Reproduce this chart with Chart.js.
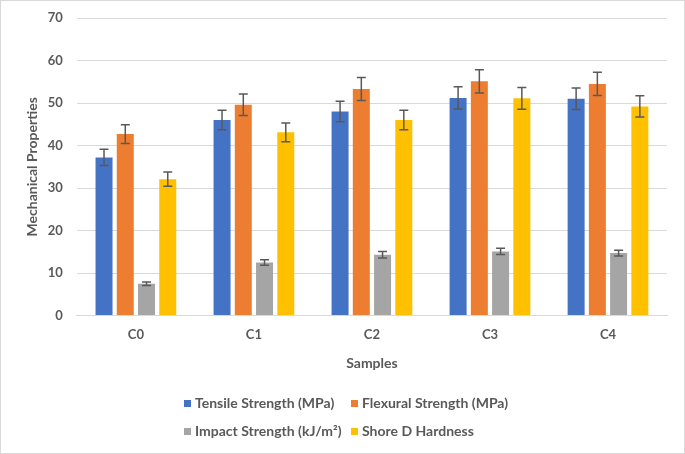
<!DOCTYPE html>
<html>
<head>
<meta charset="utf-8">
<script src="https://cdn.jsdelivr.net/npm/chart.js@4"></script>
<style>
  html, body { margin: 0; padding: 0; background: #fff; }
  #box { position: relative; width: 683px; height: 452px; border: 1px solid #d9d9d9; }
  #legend { position: absolute; left: 183px; top: 393px; display: grid;
    grid-template-columns: 167px 167px; row-gap: 11px;
    font: bold 14px Lato, sans-serif; color: #595959; }
  #legend span.sw { display: inline-block; width: 7px; height: 7px; margin-right: 4px; vertical-align: 1px; }
</style>
</head>
<body>
<div id="box">
  <canvas id="statisticsChart1"></canvas>
  <div id="legend"></div>
</div>
<script>
var ctx = document.getElementById("statisticsChart1").getContext('2d');

// samples on x axis
var samples = ["C0", "C1", "C2", "C3", "C4"];

var seriesNames = ["Tensile Strength (MPa)", "Flexural Strength (MPa)", "Impact Strength (kJ/m²)", "Shore D Hardness"];
var seriesColors = ["#4472C4", "#ED7D31", "#A5A5A5", "#FFC000"];

var tensile = [37.2, 46.0, 48.0, 51.2, 51.0];
var flexural = [42.7, 49.6, 53.3, 55.1, 54.5];
var impact = [7.5, 12.5, 14.3, 15.1, 14.7];
var shore = [32.1, 43.1, 46.0, 51.1, 49.2];

// +/- error values
var tensileErr = [1.9, 2.3, 2.4, 2.6, 2.55];
var flexuralErr = [2.2, 2.55, 2.7, 2.75, 2.75];
var impactErr = [0.4, 0.65, 0.75, 0.75, 0.7];
var shoreErr = [1.65, 2.2, 2.3, 2.55, 2.5];

var yTicks = [0, 10, 20, 30, 40, 50, 60, 70];

var allValues = [tensile, flexural, impact, shore];
var allErrors = [tensileErr, flexuralErr, impactErr, shoreErr];

var datasets = [];
for (var i = 0; i < seriesNames.length; i++) {
  datasets.push({
    label: seriesNames[i],
    data: allValues[i],
    errors: allErrors[i],
    backgroundColor: seriesColors[i],
    borderWidth: 0,
    categoryPercentage: 0.72,
    barPercentage: 0.8
  });
}

// error bars drawn with the chart's own scales
var errorBars = {
  id: 'errorBars',
  afterDatasetsDraw: function(chart) {
    var c = chart.ctx;
    var yScale = chart.scales.y;
    c.save();
    c.strokeStyle = "#595959";
    c.lineWidth = 1.5;
    chart.data.datasets.forEach(function(ds, di) {
      var meta = chart.getDatasetMeta(di);
      meta.data.forEach(function(bar, j) {
        var v = ds.data[j], e = ds.errors[j];
        var yTop = yScale.getPixelForValue(v + e);
        var yBot = yScale.getPixelForValue(v - e);
        var x = bar.x;
        c.beginPath();
        c.moveTo(x, yTop); c.lineTo(x, yBot);
        c.moveTo(x - 4.5, yTop); c.lineTo(x + 4.5, yTop);
        c.moveTo(x - 4.5, yBot); c.lineTo(x + 4.5, yBot);
        c.stroke();
      });
    });
    c.restore();
  }
};

var tickFont = { family: "Lato", size: 13, weight: "bold" };
var titleFont = { family: "Lato", size: 14, weight: "bold" };

var statisticsChart = new Chart(ctx, {
  type: 'bar',
  data: {
    labels: samples,
    datasets: datasets
  },
  options: {
    responsive: true,
    maintainAspectRatio: false,
    animation: false,
    layout: { padding: { left: 6, right: 17, top: 17, bottom: 79 } },
    plugins: {
      legend: { display: false },
      tooltip: { enabled: false }
    },
    scales: {
      x: {
        grid: { display: false, drawTicks: false },
        border: { color: "#d9d9d9", width: 1 },
        ticks: { color: "#595959", font: tickFont, padding: 11 },
        title: { display: true, text: "Samples", color: "#595959", font: titleFont, padding: { top: 2, bottom: 2 } }
      },
      y: {
        min: 0,
        max: 70,
        afterBuildTicks: function(axis) {
          axis.ticks = yTicks.map(function(v) { return { value: v }; });
        },
        afterFit: function(axis) {
          axis.paddingTop = 0;
        },
        grid: { color: "#d9d9d9", drawTicks: false },
        border: { display: false },
        ticks: { color: "#595959", font: tickFont, padding: 14 },
        title: { display: true, text: "Mechanical Properties", color: "#595959", font: titleFont, padding: { top: 17, bottom: -7 } }
      }
    }
  },
  plugins: [errorBars]
});

// two-column legend like the original
var legend = document.getElementById("legend");
for (var k = 0; k < seriesNames.length; k++) {
  var item = document.createElement("div");
  var sw = document.createElement("span");
  sw.className = "sw";
  sw.style.background = seriesColors[k];
  item.appendChild(sw);
  item.appendChild(document.createTextNode(seriesNames[k]));
  legend.appendChild(item);
}
</script>
</body>
</html>
